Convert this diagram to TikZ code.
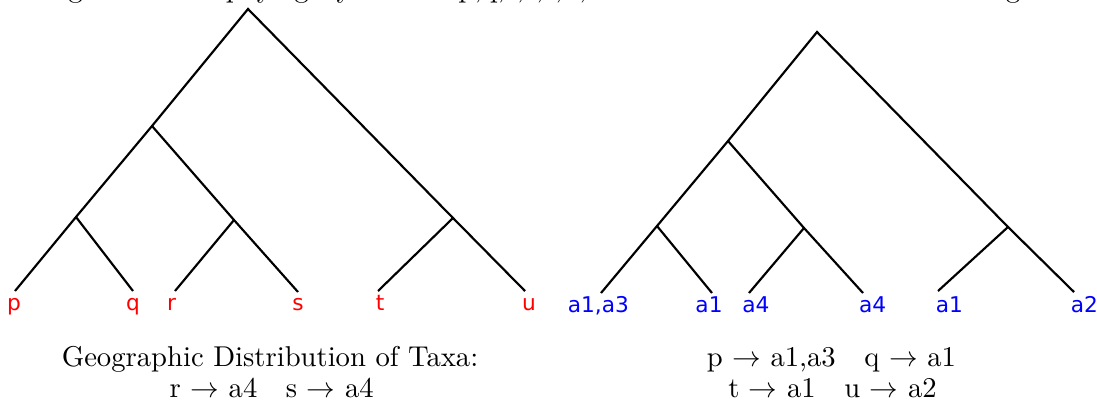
\documentclass[tikz,border=0pt]{standalone}
\usepackage{fontspec}
\newfontfamily\labfont{DejaVu Sans}
\begin{document}
\begin{tikzpicture}[x=0.349pt,y=-0.349pt,
  branch/.style={line width=0.75pt, line join=miter},
  taxon/.style={anchor=base, inner sep=0pt, text=red, font=\labfont\fontsize{7.57}{9}\selectfont},
  area/.style={anchor=base, inner sep=0pt, text=blue, font=\labfont\fontsize{7.57}{9}\selectfont},
  caption/.style={anchor=base, inner sep=0pt, font=\fontsize{10}{12}\selectfont}]
\useasboundingbox (0,0) rectangle (1097,400);
% title (cut off at the top edge)
\node[anchor=base west, inner sep=0pt, font=\fontsize{10}{12}\selectfont] (title) at (41,-2.6)
  {Figure 1: The phylogeny of taxa p,q,r,s,t,u, and the same tree after relabeling its leaves with areas.};
% ---------- left tree ----------
\coordinate (L0) at (248,9);
\coordinate (LC) at (152,126);
\coordinate (LA) at (76,217);
\coordinate (LB) at (234,220);
\coordinate (LD) at (453,218);
\coordinate (lp) at (15,291);
\coordinate (lq) at (133,291);
\coordinate (lr) at (175,291);
\coordinate (ls) at (298,292);
\coordinate (lt) at (378,291);
\coordinate (lu) at (525,291);
\draw[branch] (lp) -- (LA) -- (LC) -- (L0) -- (LD) -- (lu);
\draw[branch] (LA) -- (lq);
\draw[branch] (LC) -- (LB) -- (ls);
\draw[branch] (LB) -- (lr);
\draw[branch] (LD) -- (lt);
\node[taxon] (tp) at (14,310) {p};
\node[taxon] (tq) at (133,310) {q};
\node[taxon] (tr) at (171.5,310) {r};
\node[taxon] (ts) at (298,310) {s};
\node[taxon] (tt) at (380,310) {t};
\node[taxon] (tu) at (529,310) {u};
% ---------- right tree ----------
\coordinate (R0) at (817,32);
\coordinate (RE) at (728,141);
\coordinate (RF) at (657,226);
\coordinate (RG) at (804,228);
\coordinate (RH) at (1008,227);
\coordinate (rp) at (601,293);
\coordinate (rq) at (712,293);
\coordinate (rr) at (749,293);
\coordinate (rs) at (863,293);
\coordinate (rt) at (938,291);
\coordinate (ru) at (1074,292);
\draw[branch] (rp) -- (RF) -- (RE) -- (R0) -- (RH) -- (ru);
\draw[branch] (RF) -- (rq);
\draw[branch] (RE) -- (RG) -- (rs);
\draw[branch] (RG) -- (rr);
\draw[branch] (RH) -- (rt);
\node[area] (ap) at (598.4,312) {a1,a3};
\node[area] (aq) at (709,312) {a1};
\node[area] (ar) at (755.8,312) {a4};
\node[area] (as) at (872.6,312) {a4};
\node[area] (at) at (949.4,312) {a1};
\node[area] (au) at (1084.4,312) {a2};
% ---------- captions ----------
\node[caption] (capL1) at (270,366) {Geographic Distribution of Taxa:};
\node[caption] (capL2) at (271.7,397) {r $\rightarrow$ a4\quad s $\rightarrow$ a4};
\node[caption] (capR1) at (831.4,366) {p $\rightarrow$ a1,a3\quad q $\rightarrow$ a1};
\node[caption] (capR2) at (832.5,397) {t $\rightarrow$ a1\quad u $\rightarrow$ a2};
\end{tikzpicture}
\end{document}
